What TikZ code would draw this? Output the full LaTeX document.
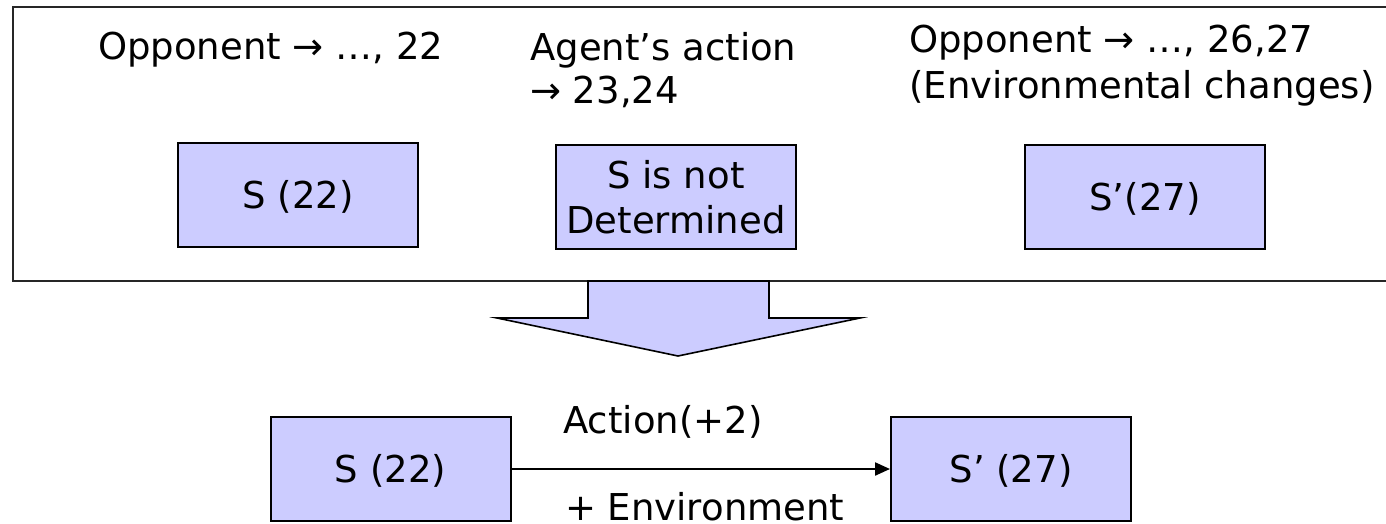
\documentclass[tikz,border=0pt]{standalone}
\usepackage{fontspec}
\setmainfont{DejaVu Sans}
\usetikzlibrary{arrows.meta}
\definecolor{boxfill}{HTML}{CCCCFF}
\newcommand\diagfont{\fontsize{37}{45}\selectfont}
\tikzset{
  statebox/.style={draw=black, fill=boxfill, line width=2pt, minimum width=240pt,
    minimum height=104pt, inner sep=0pt, font=\diagfont, align=center},
  oneline/.style={text height=27pt, text depth=0pt},
  caption/.style={anchor=base west, inner sep=0pt, font=\diagfont},
  framebox/.style={draw=black!85, line width=1.6pt},
  bigarrow/.style={draw=black, fill=boxfill, line width=1.6pt, line join=miter},
  flow/.style={line width=2.2pt, -{Triangle[length=15pt, width=13pt]}}
}
\begin{document}
\begin{tikzpicture}[x=1pt, y=-1pt]
  \useasboundingbox (0,0) rectangle (1386,524);
  \clip (0,0) rectangle (1386,524);

  % upper panel: the state as seen at three moments
  \draw[framebox] (13,7) rectangle (1410,281);

  \node[caption] (cap1) at (98,60) {Opponent → …, 22};
  \node[caption] (cap2a) at (530,61) {Agent’s action};
  \node[caption] (cap2b) at (530,104) {→ 23,24};
  \node[caption] (cap3a) at (909,53) {Opponent → …, 26,27};
  \node[caption] (cap3b) at (909,99) {(Environmental changes)};

  \node[statebox, oneline] (s22top) at (298,195) {S (22)};
  \node[statebox] (undet) at (676,197) {S is not\\Determined};
  \node[statebox, oneline] (s27top) at (1145,197) {S’(27)};

  % block arrow pointing to the resulting transition
  \draw[bigarrow] (588,281) -- (769,281) -- (769,318) -- (860,318) -- (678,356)
    -- (497,318) -- (588,318) -- cycle;

  % lower panel: the transition as the agent sees it
  \node[statebox, oneline] (s22) at (390.5,469) {S (22)};
  \node[statebox, oneline] (s27) at (1011,469) {S’ (27)};
  \draw[flow] (s22) -- (s27);

  \node[caption] (act) at (563,433) {Action(+2)};
  \node[caption] (env) at (565,520) {+ Environment};
\end{tikzpicture}
\end{document}
